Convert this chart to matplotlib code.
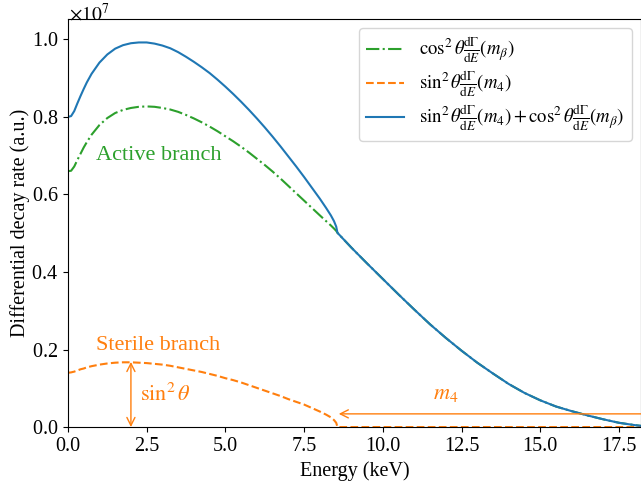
import numpy as np
import matplotlib.pyplot as plt
from matplotlib.ticker import ScalarFormatter

plt.rcParams['font.family'] = ['Liberation Serif', 'DejaVu Serif']
plt.rcParams['mathtext.fontset'] = 'stix'
plt.rcParams['font.size'] = 14.5

# energy grid below the sterile endpoint (keV)
E_head = [0, 0.1, 0.2, 0.3, 0.4, 0.5, 0.6, 0.75, 1.0, 1.25, 1.5, 1.75, 2.0,
          2.25, 2.5, 2.75, 3.0, 3.25, 3.5, 3.75, 4.0, 4.25, 4.5, 4.75, 5.0,
          5.25, 5.5, 5.75, 6.0, 6.25, 6.5, 6.75, 7.0, 7.25, 7.5, 7.75, 8.0,
          8.2, 8.35, 8.45, 8.52, 8.56]
active_head = [0.660, 0.661, 0.672, 0.689, 0.705, 0.721, 0.735, 0.754, 0.779,
               0.797, 0.810, 0.818, 0.823, 0.826, 0.827, 0.826, 0.823, 0.819,
               0.813, 0.805, 0.796, 0.786, 0.775, 0.763, 0.750, 0.737, 0.723,
               0.708, 0.692, 0.676, 0.659, 0.641, 0.622, 0.603, 0.584, 0.565,
               0.546, 0.531, 0.520, 0.512, 0.506, 0.501]
sterile_head = [0.140, 0.141, 0.143, 0.146, 0.149, 0.151, 0.154, 0.157, 0.161,
                0.164, 0.166, 0.167, 0.167, 0.166, 0.165, 0.163, 0.161, 0.158,
                0.154, 0.150, 0.146, 0.142, 0.137, 0.132, 0.126, 0.121, 0.115,
                0.108, 0.101, 0.094, 0.087, 0.080, 0.072, 0.065, 0.058, 0.049,
                0.040, 0.032, 0.025, 0.018, 0.011, 0.000]
total_head = [0.800, 0.802, 0.815, 0.835, 0.854, 0.872, 0.889, 0.911, 0.940,
              0.961, 0.976, 0.985, 0.990, 0.992, 0.992, 0.989, 0.984, 0.977,
              0.967, 0.955, 0.942, 0.928, 0.913, 0.896, 0.878, 0.859, 0.839,
              0.818, 0.796, 0.773, 0.749, 0.724, 0.698, 0.672, 0.645, 0.617,
              0.589, 0.565, 0.546, 0.531, 0.517, 0.501]

# above the sterile endpoint only the active branch remains
E_tail = [9.0, 9.5, 10.0, 10.5, 11.0, 11.5, 12.0, 12.5, 13.0, 13.5, 14.0,
          14.5, 15.0, 15.5, 16.0, 16.5, 17.0, 17.5, 18.0, 18.3]
active_tail = [0.463, 0.422, 0.382, 0.342, 0.303, 0.265, 0.230, 0.197, 0.166,
               0.138, 0.111, 0.088, 0.069, 0.053, 0.041, 0.030, 0.020, 0.011,
               0.005, 0.002]

scale = 1e7
E = np.array(E_head + E_tail)
active = np.array(active_head + active_tail) * scale
sterile = np.array(sterile_head + [0.0] * len(E_tail)) * scale
total = np.array(total_head + active_tail) * scale

fig = plt.figure(figsize=(6.41, 4.82), dpi=100)
ax = fig.add_axes([0.106, 0.114, 0.894, 0.847])

ax.plot(E, active, '-.', color='#2ca02c', lw=1.5,
        label=r'$\cos^2\theta\frac{\mathrm{d}\Gamma}{\mathrm{d}E}(m_\beta)$')
ax.plot(E, sterile, '--', color='#ff7f0e', lw=1.5,
        label=r'$\sin^2\theta\frac{\mathrm{d}\Gamma}{\mathrm{d}E}(m_4)$')
ax.plot(E, total, '-', color='#1f77b4', lw=1.5,
        label=r'$\sin^2\theta\frac{\mathrm{d}\Gamma}{\mathrm{d}E}(m_4)+\cos^2\theta\frac{\mathrm{d}\Gamma}{\mathrm{d}E}(m_\beta)$')

ax.set_xlim(0, 18.2)
ax.set_ylim(0, 1.053e7)
ax.set_xticks(np.arange(0, 18, 2.5))
fmt = ScalarFormatter(useMathText=True)
ax.yaxis.set_major_formatter(fmt)
ax.yaxis.get_offset_text().set_visible(False)
fig.text(0.108, 1 - 21 / 482, r'$\times10^{7}$', fontsize=14,
         ha='left', va='baseline')
ax.set_xlabel('Energy (keV)')
ax.set_ylabel('Differential decay rate (a.u.)', labelpad=1)

# annotations
orange = '#ff7f0e'
ax.text(0.9, 0.70e7, 'Active branch', color='#2ca02c', fontsize=16, va='center')
ax.text(0.9, 0.21e7, 'Sterile branch', color=orange, fontsize=16, va='center')
ax.annotate('', xy=(2.0, 0.0), xytext=(2.0, 0.168e7),
            arrowprops=dict(arrowstyle='<->', color=orange, lw=1.0,
                            shrinkA=0, shrinkB=0))
ax.text(2.3, 0.083e7, r'$\sin^2\theta$', color=orange, fontsize=16, va='center')
ax.annotate('', xy=(8.6, 0.034e7), xytext=(18.3, 0.034e7),
            arrowprops=dict(arrowstyle='->', color=orange, lw=1.0,
                            shrinkA=0, shrinkB=0))
ax.text(12.0, 0.083e7, r'$m_4$', color=orange, fontsize=16,
        ha='center', va='center')

ax.legend(loc='upper right', fontsize=13.5, labelspacing=0.25)

fig.savefig('out.png', dpi=100)
